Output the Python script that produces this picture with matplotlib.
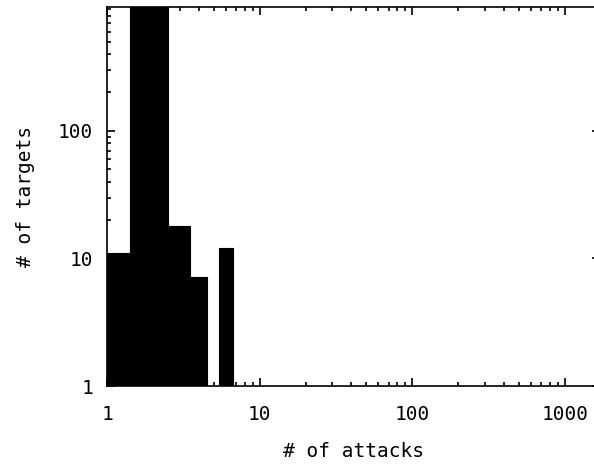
import numpy as np
import matplotlib
matplotlib.use("Agg")
import matplotlib.pyplot as plt
from matplotlib.ticker import LogLocator, NullFormatter, FixedLocator, FixedFormatter

# histogram of attacks per target: bin edges and counts
bin_lo = [1.0, 1.41, 2.5, 3.5, 5.45]
bin_hi = [1.41, 2.5, 3.5, 4.5, 6.65]
targets = [11, 1500, 18, 7, 12]

x_ticks = [1, 10, 100, 1000]
y_ticks = [1, 10, 100]

plt.rcParams['font.family'] = ['DejaVu Sans Mono']
plt.rcParams['font.size'] = 14

fig = plt.figure(figsize=(5.94, 4.65), dpi=100)
ax = fig.add_axes([107/594, 79/465, 493/594, 378.7/465])

widths = np.array(bin_hi) - np.array(bin_lo)
ax.bar(bin_lo, targets, width=widths, align='edge', bottom=0.1,
       color='black', edgecolor='black', linewidth=0.8)

ax.set_xscale('log')
ax.set_yscale('log')
ax.set_xlim(1, 1700)
ax.set_ylim(1, 930)

ax.xaxis.set_major_locator(FixedLocator(x_ticks))
ax.xaxis.set_major_formatter(FixedFormatter([str(v) for v in x_ticks]))
ax.xaxis.set_minor_locator(LogLocator(base=10, subs=np.arange(2, 10), numticks=20))
ax.xaxis.set_minor_formatter(NullFormatter())
ax.yaxis.set_major_locator(FixedLocator(y_ticks))
ax.yaxis.set_major_formatter(FixedFormatter([str(v) for v in y_ticks]))
ax.yaxis.set_minor_locator(LogLocator(base=10, subs=np.arange(2, 10), numticks=20))
ax.yaxis.set_minor_formatter(NullFormatter())

ax.tick_params(which='both', direction='in', top=True, right=True, color='black', width=1.2)
ax.tick_params(which='major', length=6)
ax.tick_params(which='minor', length=3)
ax.tick_params(axis='x', which='major', pad=13.5)
ax.tick_params(axis='y', which='major', pad=10)

for s in ax.spines.values():
    s.set_linewidth(1.2)

ax.set_xlabel('# of attacks', labelpad=13)
ax.set_ylabel('# of targets', labelpad=16.5)

fig.savefig('out.png', dpi=100)
